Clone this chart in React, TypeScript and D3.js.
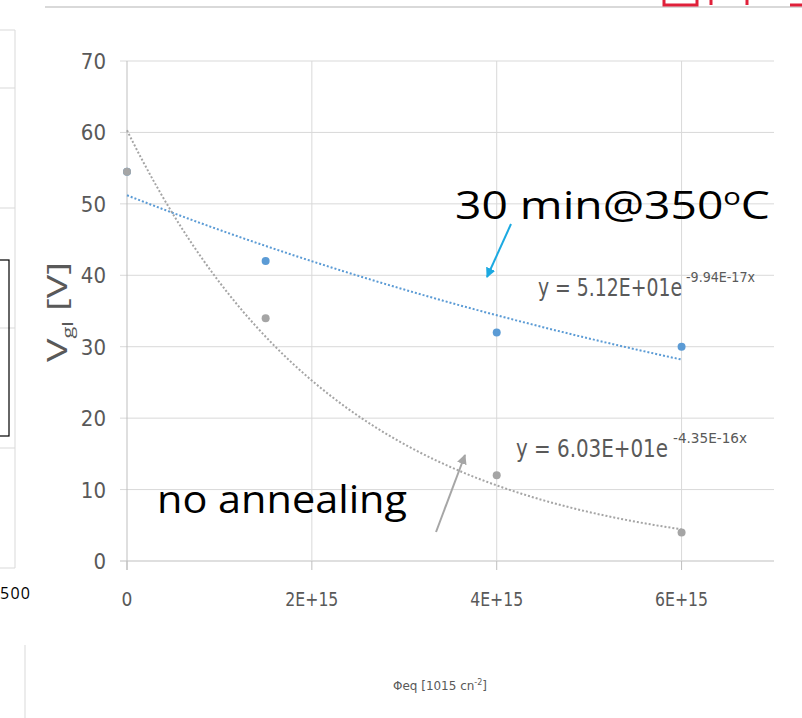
import React from 'react';
import * as d3 from 'd3';

const fluence = [0, 1.5e15, 4e15, 6e15];
const annealed = [54.5, 42, 32, 30];
const notAnnealed = [54.5, 34, 12, 4];
const yTicks = [0, 10, 20, 30, 40, 50, 60, 70];
const xTicks = [0, 2e15, 4e15, 6e15];
const xTickLabels = ['0', '2E+15', '4E+15', '6E+15'];
// trendline coefficients, as printed on the chart
const fitAnnealed = { a: 51.2, b: 9.94e-17 };
const fitPlain = { a: 60.3, b: 4.35e-16 };

const BLUE = '#5b9bd5';
const GREY = '#a5a5a5';
const TXT = '#595959';
const font = '"Open Sans", "Liberation Sans", sans-serif';
const narrow = '"DejaVu Sans Condensed", "Open Sans", sans-serif';

export default function App() {
  const width = 802, height = 718;
  const x = d3.scaleLinear().domain([0, 7e15]).range([127, 774]);
  const y = d3.scaleLinear().domain([0, 70]).range([561, 61]);

  const samples = d3.range(0, 6e15 + 1, 6e13);
  const line = d3.line<number>().x(d => x(d));
  const trend = (f: { a: number; b: number }) =>
    line.y(d => y(f.a * Math.exp(-f.b * d)))(samples) || '';

  return (
    <svg width={width} height={height} style={{ position: 'absolute', left: 0, top: 0, background: '#fff' }}>
      <defs>
        <marker id="ab" viewBox="0 0 10 10" refX="9" refY="5" markerWidth="5" markerHeight="5" orient="auto">
          <path d="M0,0 L10,5 L0,10 z" fill="#1ba9e1" />
        </marker>
        <marker id="ag" viewBox="0 0 10 10" refX="9" refY="5" markerWidth="5" markerHeight="5" orient="auto">
          <path d="M0,0 L10,5 L0,10 z" fill="#a6a6a6" />
        </marker>
      </defs>

      {/* fragments of the neighbouring slide content */}
      <line x1={45} x2={802} y1={7} y2={7} stroke="#d9d9d9" strokeWidth={2} />
      <path d="M664,0 V5 H697 V0 M711,0 V5 M747,0 V5 M790,5 H802" stroke="#e0203a" strokeWidth={3} fill="none" />
      <line x1={15} x2={15} y1={30} y2={568} stroke="#d9d9d9" />
      {[30, 88, 208, 328, 448, 568].map(v => (
        <line key={v} x1={0} x2={15} y1={v} y2={v} stroke="#d9d9d9" />
      ))}
      <rect x={-2} y={260} width={11} height={176} fill="none" stroke="#000" strokeWidth={1.2} />
      <text x={0} y={599} fontFamily={font} fontSize={16} textLength={30} fill="#000">500</text>
      <line x1={25} x2={25} y1={645} y2={718} stroke="#d9d9d9" />

      {/* grid */}
      {yTicks.map(t => (
        <g key={t}>
          <line x1={120} x2={x(7e15)} y1={y(t)} y2={y(t)} stroke={t === 0 ? '#bfbfbf' : '#d9d9d9'} />
          <text x={106} y={y(t) + 8} textAnchor="end" fontFamily={narrow} fontSize={22} fill={TXT}>{t}</text>
        </g>
      ))}
      {xTicks.map((t, i) => (
        <g key={t}>
          {i > 0 && <line x1={x(t)} x2={x(t)} y1={y(70)} y2={y(0)} stroke="#d9d9d9" />}
          <line x1={x(t)} x2={x(t)} y1={y(0)} y2={y(0) + 9} stroke="#bfbfbf" />
          <text x={x(t)} y={606} textAnchor="middle" fontFamily={narrow} fontSize={19}
            textLength={i > 0 ? 53 : undefined} lengthAdjust="spacingAndGlyphs" fill={TXT}>{xTickLabels[i]}</text>
        </g>
      ))}
      <line x1={x(0)} x2={x(0)} y1={y(70)} y2={y(0) + 9} stroke="#bfbfbf" />

      {/* trendlines */}
      <path d={trend(fitAnnealed)} fill="none" stroke={BLUE} strokeWidth={2} strokeDasharray="2 2" />
      <path d={trend(fitPlain)} fill="none" stroke={GREY} strokeWidth={2} strokeDasharray="2 2" />

      {/* points */}
      {fluence.map((f, i) => (
        <circle key={'b' + i} cx={x(f)} cy={y(annealed[i])} r={4} fill={BLUE} />
      ))}
      {fluence.map((f, i) => (
        <circle key={'g' + i} cx={x(f)} cy={y(notAnnealed[i])} r={4} fill={GREY} />
      ))}

      {/* equations */}
      <text x={538} y={296} fontFamily={narrow} fontSize={24} fill={TXT} textLength={144} lengthAdjust="spacingAndGlyphs">
        y = 5.12E+01e
      </text>
      <text x={686} y={282} fontFamily={narrow} fontSize={14} fill={TXT} textLength={69} lengthAdjust="spacingAndGlyphs">
        -9.94E-17x
      </text>
      <text x={516} y={457} fontFamily={narrow} fontSize={24} fill={TXT} textLength={152} lengthAdjust="spacingAndGlyphs">
        y = 6.03E+01e
      </text>
      <text x={673} y={443} fontFamily={narrow} fontSize={14} fill={TXT} textLength={74} lengthAdjust="spacingAndGlyphs">
        -4.35E-16x
      </text>

      {/* annotations */}
      <text x={455} y={219} fontFamily={font} fontSize={38} fill="#000" textLength={315} lengthAdjust="spacingAndGlyphs">
        30 min@350<tspan dy={-14} fontSize={24}>o</tspan><tspan dy={14}>C</tspan>
      </text>
      <line x1={511} x2={487} y1={224} y2={277} stroke="#1ba9e1" strokeWidth={2} markerEnd="url(#ab)" />
      <text x={157} y={513} fontFamily={font} fontSize={38} fill="#000" textLength={250} lengthAdjust="spacingAndGlyphs">no annealing</text>
      <line x1={436} x2={465} y1={532} y2={455} stroke="#a6a6a6" strokeWidth={2} markerEnd="url(#ag)" />

      {/* axis titles */}
      <text transform="translate(67,312) rotate(-90)" textAnchor="middle" fontFamily={font} fontSize={27} fill={TXT}
        textLength={100} lengthAdjust="spacingAndGlyphs">
        V<tspan dy={6} fontSize={15}>gl</tspan><tspan dy={-6}> [V]</tspan>
      </text>
      <text x={440} y={690} textAnchor="middle" fontFamily={narrow} fontSize={12} fill={TXT}
        textLength={94} lengthAdjust="spacingAndGlyphs">
        Φeq [1015 cn<tspan dy={-5} fontSize={8}>-2</tspan><tspan dy={5}>]</tspan>
      </text>
    </svg>
  );
}
